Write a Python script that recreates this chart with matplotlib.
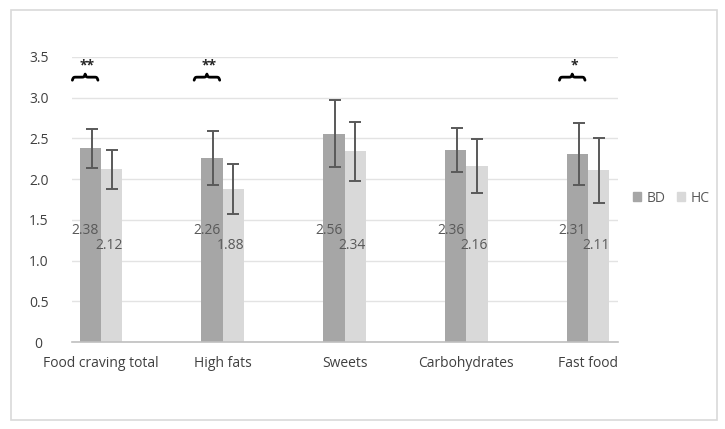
import numpy as np
import matplotlib
matplotlib.use("Agg")
import matplotlib.pyplot as plt
from matplotlib.patches import Rectangle, Patch

plt.rcParams["font.family"] = ["Open Sans", "DejaVu Sans"]

# Data
categories = ["Food craving total", "High fats", "Sweets", "Carbohydrates", "Fast food"]
bd_means = [2.38, 2.26, 2.56, 2.36, 2.31]
hc_means = [2.12, 1.88, 2.34, 2.16, 2.11]
bd_err = [0.24, 0.33, 0.41, 0.27, 0.38]
hc_err = [0.24, 0.31, 0.36, 0.33, 0.40]
# significance marks per category ("" = none)
sig = ["**", "**", "", "", "*"]

BD_COLOR = "#a6a6a6"
HC_COLOR = "#d9d9d9"
TEXT = "#595959"


def curly_brace(ax, xc, y, width, height, lw=2.0):
    # horizontal brace pointing up in the middle
    beta = 50.0
    half = np.linspace(0, 0.5, 60)
    yh = 1 / (1 + np.exp(-beta * (half - half[0]))) + 1 / (1 + np.exp(-beta * (half - half[-1])))
    ys = np.concatenate((yh, yh[-2::-1])) - 0.5
    xs = np.linspace(0, 1, len(ys))
    ax.plot(xc - width / 2 + xs * width, y + ys * height, color="black", lw=lw,
            solid_capstyle="round", clip_on=False)


def main():
    fig = plt.figure(figsize=(7.25, 4.29), dpi=100)
    fig.patches.append(Rectangle((11 / 725, 1 - 420 / 429), 706 / 725, 410 / 429,
                                 transform=fig.transFigure, fill=False,
                                 edgecolor="#d9d9d9", lw=1.2))
    ax = fig.add_axes([72 / 725, 1 - 342 / 429, 546 / 725, 285 / 429])

    x = np.arange(len(categories))
    w = 0.175
    ax.bar(x - w / 2, bd_means, w, color=BD_COLOR, zorder=2, label="BD")
    ax.bar(x + w / 2, hc_means, w, color=HC_COLOR, zorder=2, label="HC")
    ax.errorbar(x - w / 2 + 0.01, bd_means, yerr=bd_err, fmt="none", ecolor="#595959",
                elinewidth=1.4, capsize=4, capthick=1.4, zorder=3)
    ax.errorbar(x + w / 2, hc_means, yerr=hc_err, fmt="none", ecolor="#595959",
                elinewidth=1.4, capsize=4, capthick=1.4, zorder=3)

    for i in range(len(categories)):
        ax.text(x[i] - w / 2 - 0.04, 1.37, f"{bd_means[i]:.2f}", ha="center", va="center",
                fontsize=10, color=TEXT, zorder=4)
        ax.text(x[i] + w / 2 - 0.025, 1.18, f"{hc_means[i]:.2f}", ha="center", va="center",
                fontsize=10, color=TEXT, zorder=4)
        if sig[i]:
            curly_brace(ax, x[i] - 0.13, 3.215, 0.21, 0.075)
            ax.text(x[i] - 0.115, 3.39, sig[i], ha="center", va="center",
                    fontsize=10, color="#262626", fontweight="bold")

    ax.set_xlim(-0.238, 4.246)
    ax.set_ylim(0, 3.5)
    ax.set_yticks(np.arange(0, 3.51, 0.5))
    ax.set_yticklabels(["0"] + [f"{v:.1f}" for v in np.arange(0.5, 3.51, 0.5)])
    ax.set_xticks(x)
    ax.set_xticklabels(categories)
    ax.tick_params(axis="y", length=0, pad=24, labelsize=10, labelcolor="#404040")
    ax.tick_params(axis="x", length=0, pad=10, labelsize=10, labelcolor="#404040")
    for lab in ax.get_yticklabels():
        lab.set_horizontalalignment("center")

    ax.grid(axis="y", color="#e3e3e3", lw=1, zorder=0)
    ax.set_axisbelow(True)
    for s in ["top", "right", "left"]:
        ax.spines[s].set_visible(False)
    ax.spines["bottom"].set_color("#bfbfbf")
    ax.spines["bottom"].set_linewidth(1.2)

    handles = [Patch(color=BD_COLOR, label="BD"), Patch(color=HC_COLOR, label="HC")]
    fig.legend(handles=handles, loc="center", bbox_to_anchor=(671 / 725, 1 - 198 / 429),
               ncol=2, frameon=False, handlelength=0.6, handleheight=0.6,
               handletextpad=0.4, columnspacing=0.8, fontsize=10, labelcolor=TEXT)

    fig.savefig("out.png", dpi=100)


if __name__ == "__main__":
    main()
